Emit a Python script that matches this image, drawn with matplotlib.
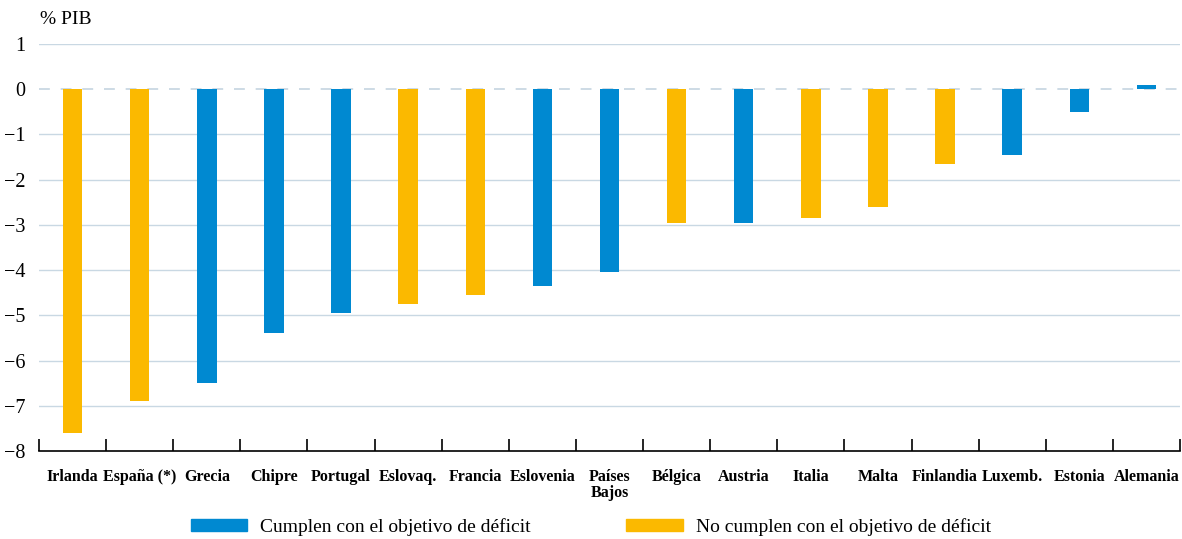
import matplotlib
matplotlib.use("Agg")
import matplotlib.pyplot as plt
from matplotlib.patches import Patch
import numpy as np

plt.rcParams['font.family'] = ['Liberation Serif', 'DejaVu Serif']

countries = ["Irlanda", "España (*)", "Grecia", "Chipre", "Portugal", "Eslovaq.",
             "Francia", "Eslovenia", "Países\nBajos", "Bélgica", "Austria", "Italia",
             "Malta", "Finlandia", "Luxemb.", "Estonia", "Alemania"]
values = [-7.6, -6.9, -6.5, -5.4, -4.95, -4.75, -4.55, -4.35, -4.05,
          -2.95, -2.95, -2.85, -2.6, -1.65, -1.45, -0.5, 0.1]
meets = [False, False, True, True, True, False, False, True, True,
         False, True, False, False, False, True, True, True]
legend_labels = ["Cumplen con el objetivo de déficit",
                 "No cumplen con el objetivo de déficit"]
yticks = [1, 0, -1, -2, -3, -4, -5, -6, -7, -8]

BLUE = "#0089d1"
YELLOW = "#fbb900"
GRID = "#c9d8e3"

fig = plt.figure(figsize=(11.82, 5.39), dpi=100)
ax = fig.add_axes([39/1182, 1 - 451/539, (1180-39)/1182, (451-44)/539])

x = np.arange(len(countries))
colors = [BLUE if m else YELLOW for m in meets]
ax.bar(x, values, width=0.29, color=colors, zorder=3)

ax.set_xlim(-0.5, len(countries) - 0.5)
ax.set_ylim(-8, 1)

for y in yticks:
    if y == 0:
        ax.axhline(y, color=GRID, lw=1.3, ls=(0, (6, 6)), zorder=1)
    elif y != -8:
        ax.axhline(y, color=GRID, lw=1.0, zorder=1)

ax.set_yticks(yticks)
ax.set_yticklabels([str(v).replace('-', '\u2212') for v in yticks], fontsize=14.5)
ax.tick_params(axis='y', length=0, pad=10)

ax.set_xticks(x)
ax.set_xticklabels(countries, fontsize=11.5, fontweight='bold', linespacing=1.0)
ax.tick_params(axis='x', length=0, pad=13)
ax.set_xticks(np.arange(-0.5, len(countries)), minor=True)
ax.tick_params(axis='x', which='minor', direction='in', length=9, width=1.2, color='black')

for s in ['top', 'right', 'left']:
    ax.spines[s].set_visible(False)
ax.spines['bottom'].set_linewidth(1.2)

fig.text(40/1182, 1 - 20/539, "% PIB", fontsize=14, va='center', ha='left')

handles = [Patch(color=BLUE), Patch(color=YELLOW)]
fig.legend(handles, legend_labels, loc='center', bbox_to_anchor=(0.5, 1 - 527/539),
           ncol=2, frameon=False, fontsize=14, handlelength=2.9, handleheight=0.6,
           columnspacing=4.9, handletextpad=0.67)

fig.savefig("out.png", dpi=100)
